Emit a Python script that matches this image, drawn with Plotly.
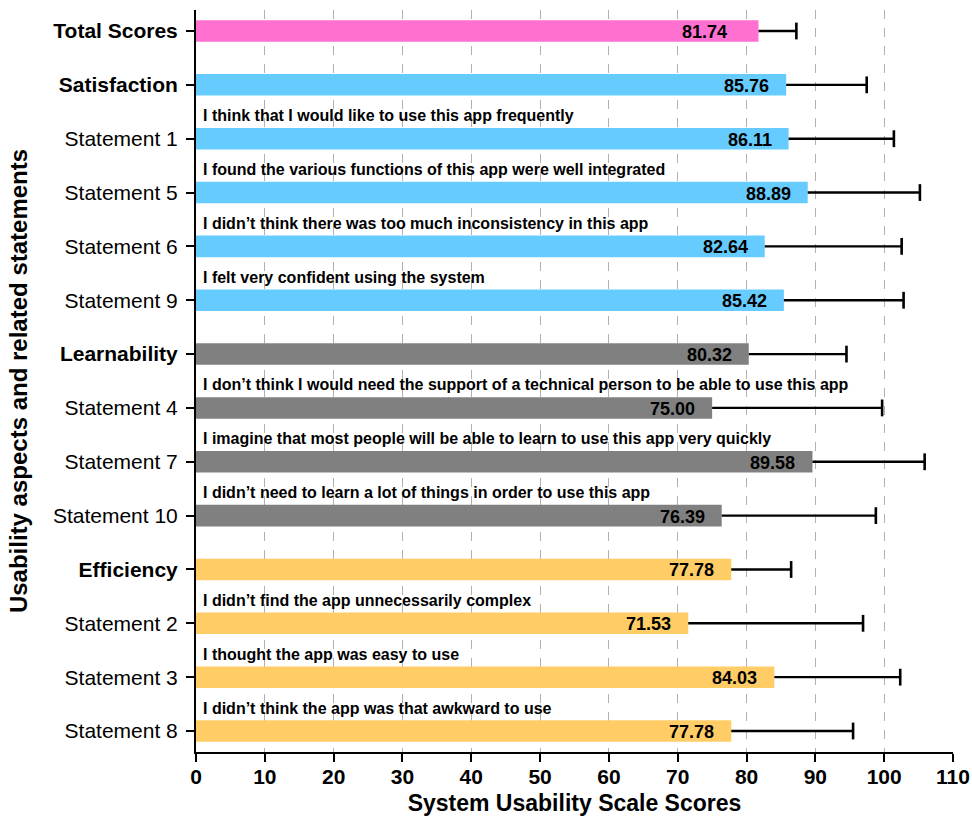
import plotly.graph_objects as go

categories = ["Total Scores", "Satisfaction", "Statement 1", "Statement 5", "Statement 6",
              "Statement 9", "Learnability", "Statement 4", "Statement 7", "Statement 10",
              "Efficiency", "Statement 2", "Statement 3", "Statement 8"]
scores = [81.74, 85.76, 86.11, 88.89, 82.64, 85.42, 80.32, 75.00, 89.58, 76.39,
          77.78, 71.53, 84.03, 77.78]
errors = [5.5, 11.7, 15.3, 16.3, 19.9, 17.4, 14.2, 24.7, 16.3, 22.4,
          8.7, 25.4, 18.3, 17.7]
groups = ["total", "sat", "sat", "sat", "sat", "sat", "learn", "learn", "learn", "learn",
          "eff", "eff", "eff", "eff"]
statements = ["", "",
              "I think that I would like to use this app frequently",
              "I found the various functions of this app were well integrated",
              "I didn’t think there was too much inconsistency in this app",
              "I felt very confident using the system",
              "",
              "I don’t think I would need the support of a technical person to be able to use this app",
              "I imagine that most people will be able to learn to use this app very quickly",
              "I didn’t need to learn a lot of things in order to use this app",
              "",
              "I didn’t find the app unnecessarily complex",
              "I thought the app was easy to use",
              "I didn’t think the app was that awkward to use"]
aspects = ["Total Scores", "Satisfaction", "Learnability", "Efficiency"]
x_ticks = list(range(0, 111, 10))

group_colors = {"total": "#FF70D0", "sat": "#66CCFF", "learn": "#808080", "eff": "#FFCC66"}
FONT = "Liberation Sans, Arial, sans-serif"

fig = go.Figure()
fig.add_trace(go.Bar(
    x=scores, y=categories, orientation="h", width=0.4,
    marker=dict(color=[group_colors[g] for g in groups], line=dict(width=0)),
    showlegend=False, hoverinfo="x+y",
))

# error lines (one-sided, positive direction)
ex, ey = [], []
for c, v, e in zip(categories, scores, errors):
    ex += [v, v + e, None]
    ey += [c, c, None]
fig.add_trace(go.Scatter(x=ex, y=ey, mode="lines", line=dict(color="black", width=2.4),
                         showlegend=False, hoverinfo="skip"))
fig.add_trace(go.Scatter(x=[v + e for v, e in zip(scores, errors)], y=categories,
                         mode="markers",
                         marker=dict(symbol="line-ns", size=12, line=dict(color="black", width=2.6)),
                         showlegend=False, hoverinfo="skip"))

annotations = []
for i, (c, v, s) in enumerate(zip(categories, scores, statements)):
    annotations.append(dict(x=v, y=c, xref="x", yref="y", text=f"<b>{v:.2f}</b>",
                            showarrow=False, xanchor="right", yanchor="middle",
                            xshift=-30 if i == 0 else -15, yshift=-1,
                            font=dict(family=FONT, size=18, color="black")))
    if s:
        annotations.append(dict(x=0, y=c, xref="x", yref="y", text=f"<b>{s}</b>",
                                showarrow=False, xanchor="left", yanchor="middle",
                                xshift=5, yshift=23,
                                font=dict(family=FONT, size=16, color="black")))

ticktext = [f"<b>{c}</b>" if c in aspects else c for c in categories]

fig.update_layout(
    width=972, height=823,
    margin=dict(l=196, r=19, t=10, b=71),
    plot_bgcolor="white", paper_bgcolor="white",
    font=dict(family=FONT, color="black"),
    annotations=annotations,
    xaxis=dict(
        range=[0, 110], tickvals=x_ticks, ticktext=[f"<b>{t}</b>" for t in x_ticks],
        showgrid=True, gridcolor="#B0B0B0", griddash="dash", gridwidth=1,
        showline=True, linecolor="black", linewidth=2,
        ticks="outside", ticklen=8, tickwidth=2, tickcolor="black",
        ticklabelstandoff=-3,
        tickfont=dict(family=FONT, size=21, color="black"),
        title=dict(text="<b>System Usability Scale Scores</b>", standoff=8,
                   font=dict(family=FONT, size=23, color="black")),
        zeroline=False, fixedrange=True, automargin=False,
    ),
    yaxis=dict(
        type="category", categoryorder="array", categoryarray=categories,
        tickvals=categories, ticktext=ticktext,
        range=[13.39, -0.39],
        showgrid=False, showline=True, linecolor="black", linewidth=2,
        ticks="outside", ticklen=8, tickwidth=2, tickcolor="black",
        ticklabelstandoff=4,
        tickfont=dict(family=FONT, size=21, color="black"),
        title=dict(text="<b>Usability aspects and related statements</b>", standoff=18,
                   font=dict(family=FONT, size=24, color="black")),
        zeroline=False, fixedrange=True, automargin=False,
    ),
)

fig.write_html("out.html")
